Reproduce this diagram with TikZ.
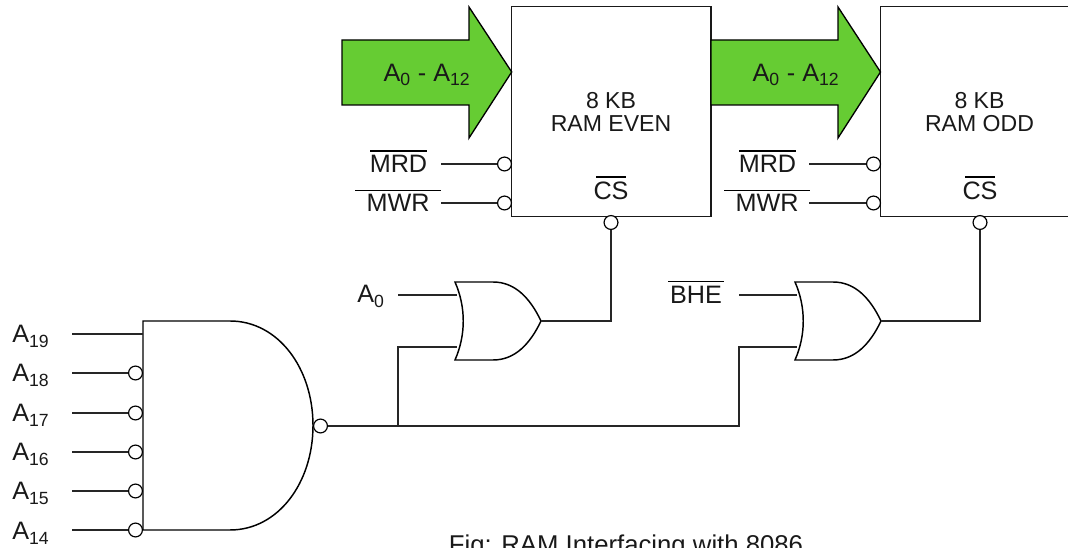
\documentclass[tikz,border=0pt]{standalone}
\usepackage{fontspec}
\setmainfont{Liberation Sans}
\definecolor{busgreen}{RGB}{102,204,51}
\tikzset{
  x=0.75pt,y=-0.75pt,
  wire/.style={draw=black!85,line width=1pt},
  shapeline/.style={draw=black,line width=1.1pt,line join=miter},
  ramblock/.style={rectangle,draw=black!90,line width=1pt,fill=white,inner sep=0pt,outer sep=0pt,anchor=north west,minimum height=157.5pt},
  bubble/.style={circle,draw=black,fill=white,line width=0.9pt,minimum size=10.4pt,inner sep=0pt},
  lbl/.style={inner sep=0pt,font=\fontsize{18.9pt}{22pt}\selectfont,text=black!90},
  ram/.style={inner sep=0pt,align=center,font=\fontsize{17.3pt}{17.3pt}\selectfont,text=black!90},
  busarrow/.style={draw=black,line width=1pt,fill=busgreen,line join=miter},
  over/.style={draw=black,line width=0.8pt},
}
\begin{document}
\begin{tikzpicture}
\useasboundingbox (0,0) rectangle (1068,548);
\clip (0,0) rectangle (1068,548);
% RAM blocks
\node[ramblock,minimum width=149.5pt] (even) at (511.7,6.7) {};
\node[ramblock,minimum width=141pt] (odd) at (880.5,6.7) {};
\node[ram] (evenlbl) at (611,112) {8 KB\\RAM EVEN};
\node[ram] (oddlbl) at (979.5,112) {8 KB\\RAM ODD};
% bus arrows
\draw[busarrow] (342,40) -- (469,40) -- (469,7) -- (511.7,72) -- (469,138) -- (469,105) -- (342,105) -- cycle;
\draw[busarrow] (711,40) -- (838,40) -- (838,7) -- (880.5,72) -- (838,138) -- (838,105) -- (711,105) -- cycle;
\node[lbl] (busa) at (427,75) {A\textsubscript{0} - A\textsubscript{12}};
\node[lbl] (busb) at (796,75) {A\textsubscript{0} - A\textsubscript{12}};
% control labels
\node[lbl] (mrda) at (398.5,164) {MRD};
\node[lbl] (mwra) at (398,203) {MWR};
\node[lbl] (csa) at (611,191) {CS};
\node[lbl] (mrdb) at (767.5,164) {MRD};
\node[lbl] (mwrb) at (767,203) {MWR};
\node[lbl] (csb) at (980,191) {CS};
\node[lbl] (bhe) at (696,295) {BHE};
\draw[over] (370,151) -- (427,151);
\draw[over] (355,190.5) -- (441,190.5);
\draw[over] (596,177) -- (626,177);
\draw[over] (739,151) -- (796,151);
\draw[over] (724,190.5) -- (810,190.5);
\draw[over] (965,177) -- (995,177);
\draw[over] (668,281.5) -- (724,281.5);
% control bubbles
\node[bubble] (bmrda) at (504.5,164) {};
\node[bubble] (bmwra) at (504.5,203) {};
\node[bubble] (bcsa) at (611,222.5) {};
\node[bubble] (bmrdb) at (873.5,164) {};
\node[bubble] (bmwrb) at (873.5,203) {};
\node[bubble] (bcsb) at (980,222.5) {};
\coordinate (mrdaS) at (441,164);
\coordinate (mwraS) at (441,203);
\coordinate (mrdbS) at (809,164);
\coordinate (mwrbS) at (809,203);
\draw[wire] (mrdaS) -- (bmrda);
\draw[wire] (mwraS) -- (bmwra);
\draw[wire] (mrdbS) -- (bmrdb);
\draw[wire] (mwrbS) -- (bmwrb);
% AND gate
\draw[shapeline,fill=white] (143,321) -- (230,321) .. controls (278,321) and (313,368) .. (313,425.5) .. controls (313,483) and (278,530) .. (230,530) -- (143,530) -- cycle;
\node[bubble] (bout) at (320.5,426) {};
% address inputs
\coordinate (a19p) at (143,334);
\node[bubble] (b18) at (135.5,373) {};
\node[bubble] (b17) at (135.5,413) {};
\node[bubble] (b16) at (135.5,452) {};
\node[bubble] (b15) at (135.5,491) {};
\node[bubble] (b14) at (135.5,530) {};
\coordinate (a19s) at (72,334);
\coordinate (a18s) at (72,373);
\coordinate (a17s) at (72,413);
\coordinate (a16s) at (72,452);
\coordinate (a15s) at (72,491);
\coordinate (a14s) at (72,530);
\draw[wire] (a19s) -- (a19p);
\draw[wire] (a18s) -- (b18);
\draw[wire] (a17s) -- (b17);
\draw[wire] (a16s) -- (b16);
\draw[wire] (a15s) -- (b15);
\draw[wire] (a14s) -- (b14);
\node[lbl,anchor=base west] (l19) at (12,343) {A\textsubscript{19}};
\node[lbl,anchor=base west] (l18) at (12,382) {A\textsubscript{18}};
\node[lbl,anchor=base west] (l17) at (12,422) {A\textsubscript{17}};
\node[lbl,anchor=base west] (l16) at (12,461) {A\textsubscript{16}};
\node[lbl,anchor=base west] (l15) at (12,500) {A\textsubscript{15}};
\node[lbl,anchor=base west] (l14) at (12,540) {A\textsubscript{14}};
% OR gates
\draw[shapeline,fill=white] (455,282) -- (493,282) .. controls (515,282) and (530,298) .. (541,321) .. controls (530,344) and (515,360) .. (493,360) -- (455,360) .. controls (466,335) and (466,307) .. (455,282) -- cycle;
\draw[shapeline,fill=white] (795,282) -- (833,282) .. controls (855,282) and (870,298) .. (881,321) .. controls (870,344) and (855,360) .. (833,360) -- (795,360) .. controls (806,335) and (806,307) .. (795,282) -- cycle;
\coordinate (ora1) at (457,295);
\coordinate (ora2) at (457,347);
\coordinate (oraout) at (541,321);
\coordinate (orb1) at (797,295);
\coordinate (orb2) at (797,347);
\coordinate (orbout) at (881,321);
\coordinate (a0s) at (398,295);
\coordinate (bhes) at (739,295);
\coordinate (j1) at (398,426);
\coordinate (j2) at (739,426);
\node[lbl,anchor=base west] (a0l) at (357,303) {A\textsubscript{0}};
\draw[wire] (a0s) -- (ora1);
\draw[wire] (bhes) -- (orb1);
\draw[wire] (bout) -- (j1) -- (j2) |- (orb2);
\draw[wire] (j1) |- (ora2);
\draw[wire] (oraout) -| (bcsa);
\draw[wire] (orbout) -| (bcsb);
% caption
\node[lbl,anchor=base] (cap) at (626,553.5) {\fontsize{19.3pt}{22pt}\selectfont Fig: RAM Interfacing with 8086};
\end{tikzpicture}
\end{document}
